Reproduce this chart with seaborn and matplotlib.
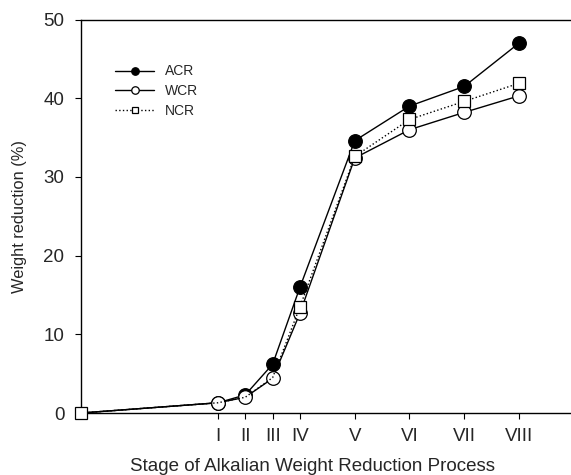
import numpy as np
import pandas as pd
import matplotlib
matplotlib.use('Agg')
import matplotlib.pyplot as plt
import seaborn as sns

# stage positions on the x axis (origin plus stages I..VIII)
stage_pos = [0, 5, 6, 7, 8, 10, 12, 14, 16]
stage_labels = ['', 'I', 'II', 'III', 'IV', 'V', 'VI', 'VII', 'VIII']

acr = [0, 1.3, 2.3, 6.2, 16.0, 34.6, 39.0, 41.5, 47.0]
wcr = [0, 1.3, 2.0, 4.4, 12.7, 32.4, 36.0, 38.2, 40.3]
ncr = [0, 1.3, 2.0, 4.5, 13.5, 32.6, 37.3, 39.6, 41.9]

df = pd.DataFrame({
    'pos': stage_pos * 3,
    'value': acr + wcr + ncr,
    'series': ['ACR'] * 9 + ['WCR'] * 9 + ['NCR'] * 9,
})

sns.set_style('ticks')
plt.rcParams['font.family'] = ['Liberation Sans', 'DejaVu Sans']

fig = plt.figure(figsize=(5.71, 4.75), dpi=100)
ax = fig.add_axes([0.1419, 0.1305, 0.8581, 0.8284])

styles = {
    'ACR': dict(marker='o', mfc='black', ls='-', markevery=list(range(1, 9))),
    'WCR': dict(marker='o', mfc='white', ls='-', markevery=list(range(1, 9))),
    'NCR': dict(marker='s', mfc='white', ls=':', markevery=[0, 4, 5, 6, 7, 8]),
}
for name in ['ACR', 'WCR', 'NCR']:
    sub = df[df['series'] == name]
    st = styles[name]
    sns.lineplot(data=sub, x='pos', y='value', ax=ax, color='black',
                 linewidth=1.0, linestyle=st['ls'], marker=st['marker'],
                 markersize=9.8 if st['marker'] == 'o' else 8.5,
                 markerfacecolor=st['mfc'], markeredgecolor='black',
                 markeredgewidth=0.9, markevery=st['markevery'],
                 label=name, clip_on=False, zorder=3)

ax.set_xlim(0, 17.9)
ax.set_ylim(0, 50)
ax.set_xticks(stage_pos[1:])
ax.set_xticklabels(stage_labels[1:])
ax.set_yticks([0, 10, 20, 30, 40, 50])
ax.tick_params(axis='both', direction='out', length=4, width=0.8,
               labelsize=13.5, color='black')
ax.tick_params(axis='y', pad=8)
ax.tick_params(axis='x', pad=7)
for s in ['left', 'bottom', 'top']:
    ax.spines[s].set_linewidth(1.0)
    ax.spines[s].set_color('black')
ax.spines['right'].set_visible(False)

ax.set_xlabel('Stage of Alkalian Weight Reduction Process', fontsize=13.5)
ax.set_ylabel('Weight reduction (%)', fontsize=11.8)
ax.xaxis.set_label_coords(0.473, -0.115)
ax.yaxis.set_label_coords(-0.11, 0.5)

leg = ax.legend(loc='upper left', bbox_to_anchor=(0.069, 0.886),
                frameon=False, fontsize=10, markerscale=0.55,
                handlelength=2.85, handletextpad=0.75, labelspacing=0.42,
                borderpad=0, borderaxespad=0)

fig.savefig('out.png', dpi=100)
